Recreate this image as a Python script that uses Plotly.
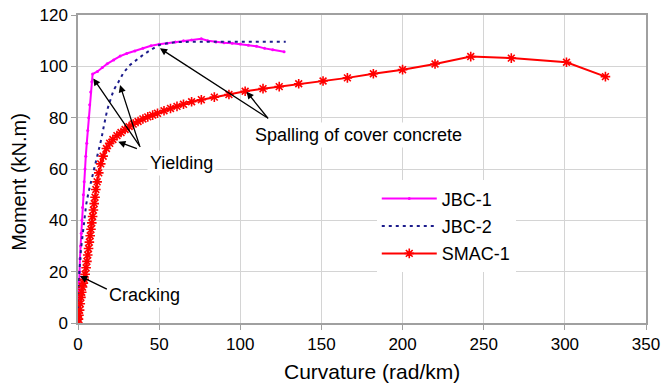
import plotly.graph_objects as go

# ---------------- data ----------------
jbc1_x = [0, 0.3, 0.6, 0.9, 1.2, 1.6, 2.0, 2.4, 2.8, 3.3, 3.8, 4.3, 4.8, 5.4, 6.0, 6.6, 7.2, 7.8, 8.5, 9.0,
          12, 15, 18, 22, 26, 30, 35, 40, 45, 50, 55, 60, 65, 70, 76, 80, 85, 90, 95, 100, 105, 110, 115, 120, 127]
jbc1_y = [0, 8, 16, 20, 25, 30, 35, 40, 45, 50, 55, 60, 65, 70, 75, 80, 85, 90, 94, 97,
          98, 99.5, 101, 102.5, 104, 105, 106, 107, 108, 108.6, 109, 109.5, 110, 110.3, 110.7, 110, 109.5, 109.2, 109,
          108.7, 108.2, 107.8, 107, 106.5, 105.7]

jbc2_x = [0, 0.4, 0.8, 1.8, 2.8, 3.8, 5.0, 6.5, 8.0, 9.5, 11, 12.9, 14.5, 16, 18, 20, 22, 25, 28, 32, 36, 40, 45,
          50, 55, 60, 70, 80, 90, 100, 110, 120, 128]
jbc2_y = [0, 10, 19.5, 28.4, 33.6, 40.8, 46, 51, 55, 59, 63, 67, 72, 77, 83, 87, 90.8, 94, 97.5, 100.5, 102.5, 104.4,
          106.5, 108.3, 109, 109.4, 109.6, 109.6, 109.6, 109.6, 109.6, 109.6, 109.6]

smac_x = [0, 0.3, 0.6, 1.0, 1.4, 1.8, 2.3, 2.8, 3.3, 3.8, 4.4, 5.0, 5.5, 6.0, 6.5, 7.0, 7.5, 8.0, 8.5, 9.0,
          9.5, 10.0, 10.5, 11.0, 11.8, 12.8, 14.0, 15.5, 17.5, 19.5, 21.5, 24, 26.5, 29, 31.5, 34, 37, 40, 43, 46,
          49, 53, 57, 61, 65, 70, 76, 84, 93, 103, 114, 124, 136, 151, 166, 182, 200, 220, 242, 267, 301, 325]
smac_y = [0, 1.5, 3, 5, 7.5, 10, 12, 14, 15.5, 17, 19, 21.5, 24, 26.5, 29, 31.5, 34, 36.5, 39, 41.5,
          44, 46.5, 49, 52, 55, 58.5, 62, 65, 68, 70, 71.5, 73, 74.2, 75.4, 76.5, 77.5, 78.5, 79.5, 80.3, 81,
          81.7, 82.7, 83.6, 84.4, 85.2, 86.2, 87, 88, 89, 90.3, 91.3, 92.1, 93.2, 94.3, 95.5, 97.1, 98.7, 100.9,
          103.8, 103.2, 101.6, 96]

x_ticks = [0, 50, 100, 150, 200, 250, 300, 350]
y_ticks = [0, 20, 40, 60, 80, 100, 120]

x_title = "Curvature (rad/km)"
y_title = "Moment (kN.m)"

# annotation labels: (text, x, y)
labels = [("Cracking", 41, 11), ("Yielding", 63.5, 62.3), ("Spalling of cover concrete", 173, 73.2)]
# arrows: (tail_x, tail_y, tip_x, tip_y)
arrows = [
    (18.7, 12.9, 1.2, 18.3),
    (39.0, 68.0, 9.4, 95.3),
    (38.2, 68.6, 25.9, 92.7),
    (37.2, 67.7, 24.8, 70.6),
    (117.3, 79.7, 50.5, 107.0),
    (117.9, 79.1, 103.9, 90.1),
]

FONT = "Liberation Sans, Arial, Helvetica, sans-serif"

fig = go.Figure()
fig.add_trace(go.Scatter(x=jbc1_x, y=jbc1_y, name="JBC-1", legendgroup="g1", mode="lines+markers",
                         line=dict(color="#ff00ff", width=2),
                         marker=dict(symbol="circle", size=3, color="#ff00ff")))
fig.add_trace(go.Scatter(x=jbc2_x, y=jbc2_y, name="JBC-2", legendgroup="g2", mode="lines",
                         line=dict(color="#1c1c8c", width=2, dash="3px,4px")))
fig.add_trace(go.Scatter(x=smac_x, y=smac_y, name="SMAC-1", legendgroup="g3", mode="lines+markers",
                         line=dict(color="#ff0000", width=2),
                         marker=dict(symbol="asterisk-open", size=8, color="#ff0000",
                                     line=dict(color="#ff0000", width=1.6))))

for t, x, y in labels:
    fig.add_annotation(x=x, y=y, xref="x", yref="y", text=t, showarrow=False,
                       font=dict(size=18, color="#000000", family=FONT),
                       bgcolor="white", borderpad=2)

for tx, ty, hx, hy in arrows:
    fig.add_annotation(x=hx, y=hy, ax=tx, ay=ty, xref="x", yref="y", axref="x", ayref="y",
                       text="", showarrow=True, arrowhead=2, arrowsize=1.1, arrowwidth=1.3,
                       arrowcolor="#000000", standoff=0)

# axis titles (placed as annotations to match the original's offset)
fig.add_annotation(x=0.518, y=-0.159, xref="paper", yref="paper", text=x_title, showarrow=False,
                   font=dict(size=21, color="#000000", family=FONT), xanchor="center", yanchor="middle")
fig.add_annotation(x=-0.104, y=0.458, xref="paper", yref="paper", text=y_title, showarrow=False,
                   textangle=-90, font=dict(size=20, color="#000000", family=FONT),
                   xanchor="center", yanchor="middle")

axis_common = dict(showgrid=True, gridcolor="#d4d4d4", gridwidth=1,
                   showline=True, linecolor="#a0a0a0", linewidth=1.5, mirror=True,
                   ticks="outside", ticklen=5, tickcolor="#a0a0a0",
                   zeroline=False, tickfont=dict(size=17, color="#000000", family=FONT))

fig.update_xaxes(range=[0, 350], tickvals=x_ticks, **axis_common)
fig.update_yaxes(range=[0, 120], tickvals=y_ticks, **axis_common)

fig.update_layout(
    width=664, height=390,
    margin=dict(l=78, r=18, t=15, b=67, autoexpand=False),
    plot_bgcolor="white", paper_bgcolor="white",
    font=dict(family=FONT, color="#000000"),
    legend=dict(x=0.526, y=0.463, xanchor="left", yanchor="top",
                bgcolor="white", borderwidth=0, itemwidth=55,
                font=dict(size=18, color="#000000", family=FONT),
                tracegroupgap=1),
    showlegend=True,
)

fig.write_html("out.html", config={"displayModeBar": False},
               post_script="document.body.style.margin='0';")
